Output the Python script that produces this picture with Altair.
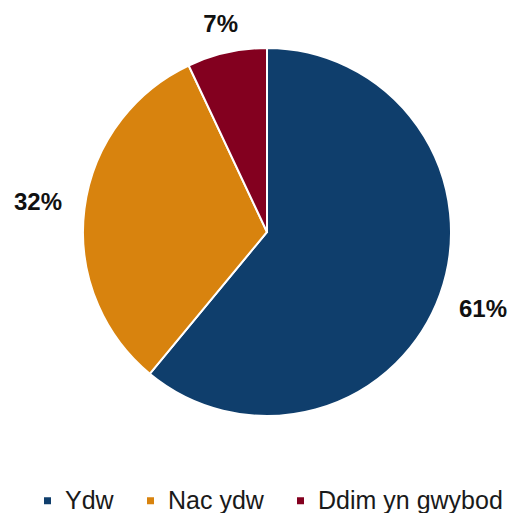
import altair as alt
import pandas as pd

categories = ["Ydw", "Nac ydw", "Ddim yn gwybod"]
values = [61, 32, 7]
labels = ["61%", "32%", "7%"]
colors = ["#0f3e6c", "#d8830e", "#83001f"]

df = pd.DataFrame({
    "category": categories,
    "value": values,
    "label": labels,
    "order": list(range(len(categories))),
})

CX, CY, R = 259, 224, 184

arcs = alt.Chart(df).mark_arc(outerRadius=R, stroke="white", strokeWidth=2).encode(
    theta=alt.Theta("value:Q", stack=True),
    order=alt.Order("order:Q"),
    x=alt.value(CX),
    y=alt.value(CY),
    color=alt.Color(
        "category:N",
        scale=alt.Scale(domain=categories, range=colors),
        legend=alt.Legend(
            title=None,
            orient="none",
            direction="horizontal",
            legendX=27,
            legendY=480,
            padding=0,
            symbolType="square",
            symbolSize=49,
            symbolStrokeWidth=0,
            labelFontSize=25,
            labelFont="Liberation Sans",
            labelColor="#1a1a1a",
            labelOffset=5,
            labelLimit=0,
            columnPadding=24,
        ),
    ),
)

text = (
    alt.Chart(df)
    .transform_joinaggregate(total="sum(value)")
    .transform_window(cum="sum(value)", sort=[alt.SortField("order")])
    .transform_calculate(
        mid="(datum.cum - datum.value / 2) / datum.total * 2 * PI",
    )
    .transform_calculate(
        r=f"{R} + 23 + 24 * abs(sin(datum.mid))"
    )
    .mark_text(font="Liberation Sans", fontSize=24, fontWeight="bold", color="#111111")
    .encode(
        theta=alt.Theta("mid:Q", scale=None, stack=None),
        radius=alt.Radius("r:Q", scale=None),
        x=alt.value(CX),
        y=alt.value(CY),
        text="label:N",
    )
)

chart = (
    alt.layer(arcs, text)
    .resolve_scale(theta="independent", radius="independent")
    .properties(width=501, height=505, padding=0, autosize="none")
    .configure_view(stroke=None)
)

chart.save("out.html", embed_options={"renderer": "svg", "actions": False})
